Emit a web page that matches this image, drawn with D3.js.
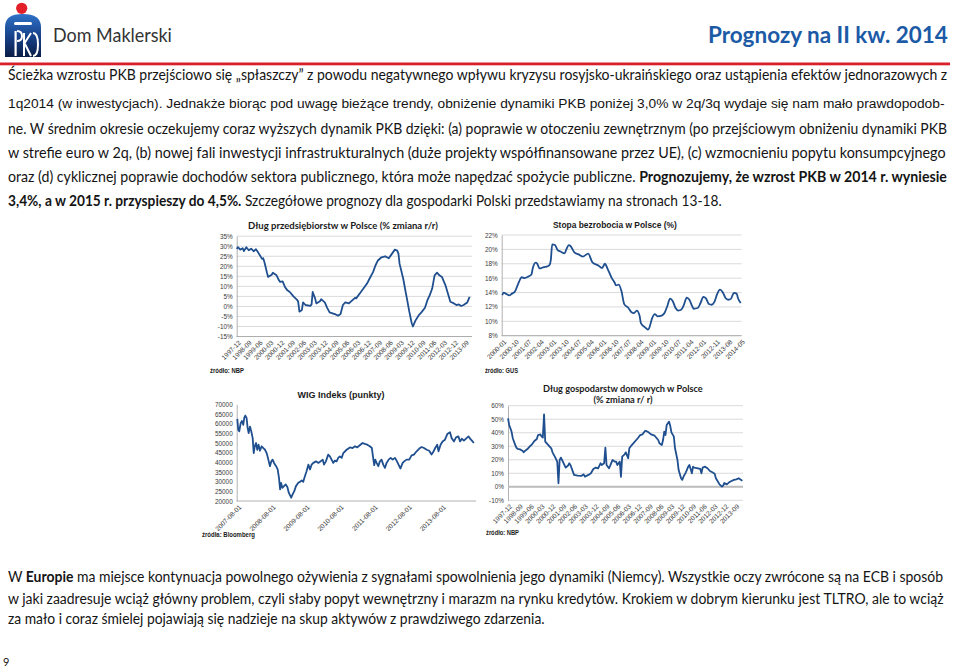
<!DOCTYPE html>
<html><head><meta charset="utf-8">
<script src="https://cdn.jsdelivr.net/npm/d3@7"></script>
<style>body{margin:0;background:#fff;} svg{display:block;}</style>
</head><body>
<svg id="c" width="960" height="668" xmlns="http://www.w3.org/2000/svg"></svg>
<script>
// ---------- DATA ----------
const monthTicksA = ["1997-12","1998-09","1999-06","2000-03","2000-12","2001-09","2002-06","2003-03","2003-12","2004-09","2005-06","2006-03","2006-12","2007-09","2008-06","2009-03","2009-12","2010-09","2011-06","2012-03","2012-12","2013-09"];

const firmDebtMonths = ["1997-12","1998-01","1998-03","1998-05","1998-06","1998-08","1998-10","1998-12","1999-02","1999-04","1999-06","1999-09","1999-10","1999-11","2000-01","2000-02","2000-05","2000-06","2000-09","2000-11","2000-12","2001-02","2001-04","2001-06","2001-08","2001-11","2002-02","2002-03","2002-04","2002-06","2002-07","2002-09","2003-01","2003-02","2003-03","2003-05","2003-06","2003-09","2003-10","2004-01","2004-03","2004-05","2004-08","2004-10","2004-12","2005-02","2005-04","2005-06","2005-09","2005-11","2006-02","2006-03","2006-06","2006-09","2006-12","2007-02","2007-05","2007-07","2007-09","2007-12","2008-03","2008-06","2008-08","2008-11","2009-01","2009-02","2009-03","2009-06","2009-08","2009-09","2009-11","2010-01","2010-02","2010-04","2010-07","2010-09","2010-12","2011-02","2011-04","2011-06","2011-08","2011-10","2011-12","2012-02","2012-05","2012-07","2012-09","2012-12","2013-02","2013-04","2013-06","2013-08","2013-11","2014-01"];
const firmDebtValues = [28.7,29.5,28.3,29.0,27.6,29.5,28.0,28.8,27.5,28.5,26.7,23.7,24.0,22.0,17.0,14.7,15.8,16.8,15.5,13.0,12.2,12.5,9.7,8.0,7.2,5.0,3.3,2.3,-2.6,-1.8,2.0,0.7,0.3,1.0,7.2,4.0,1.5,2.6,3.6,2.0,-0.7,-3.0,-3.6,-4.0,-4.6,-3.8,0.7,2.0,1.5,2.6,4.3,4.0,6.4,8.9,11.4,13.8,17.1,20.4,22.9,24.5,25.0,24.0,25.7,28.3,27.8,26.2,21.2,13.8,7.2,4.0,-2.6,-8.4,-10.0,-7.2,-4.3,-3.0,-0.7,3.1,5.6,8.9,15.5,16.8,15.5,14.7,10.5,6.4,2.3,1.5,0.7,1.0,0.2,0.7,2.0,4.8];
const firmDebtTicks = [-15,-10,-5,0,5,10,15,20,25,30,35];

const unempTickLabels = ["2000-01","2000-10","2001-07","2002-04","2003-01","2003-10","2004-07","2005-04","2006-01","2006-10","2007-07","2008-04","2009-01","2009-10","2010-07","2011-04","2012-01","2012-11","2013-08","2014-05"];
const unempMonths = ["2000-01","2000-02","2000-04","2000-06","2000-08","2000-10","2000-12","2001-02","2001-03","2001-05","2001-08","2001-10","2001-11","2002-01","2002-02","2002-04","2002-07","2002-09","2002-11","2002-12","2003-01","2003-03","2003-05","2003-07","2003-10","2003-11","2004-01","2004-02","2004-05","2004-08","2004-11","2005-03","2005-06","2005-10","2006-01","2006-03","2006-05","2006-08","2006-10","2006-11","2007-01","2007-03","2007-05","2007-08","2007-10","2007-12","2008-02","2008-04","2008-05","2008-08","2008-10","2008-11","2009-01","2009-03","2009-05","2009-08","2009-10","2009-12","2010-02","2010-04","2010-06","2010-08","2010-10","2010-12","2011-02","2011-04","2011-06","2011-07","2011-10","2011-12","2012-02","2012-04","2012-06","2012-08","2012-10","2012-12","2013-02","2013-04","2013-06","2013-08","2013-10","2013-12","2014-02","2014-03","2014-05"];
const unempValues = [13.65,14.0,13.8,13.6,13.85,14.1,15.0,15.9,16.15,16.0,16.25,16.5,17.4,18.15,18.05,17.35,17.55,17.6,17.8,18.5,20.7,20.6,19.9,19.7,19.45,19.9,20.6,20.5,19.6,19.3,19.0,19.4,18.2,17.8,17.4,18.0,17.3,16.0,15.4,15.0,15.1,14.2,12.4,11.85,11.3,11.15,11.5,10.8,9.75,9.15,8.85,9.1,10.4,11.0,10.7,10.8,11.15,12.1,13.15,12.8,11.85,11.5,11.6,12.3,13.3,13.0,12.1,11.75,11.85,12.55,13.4,13.15,12.4,12.3,12.7,13.8,14.4,14.05,13.25,13.0,13.15,13.95,13.85,13.25,12.55];
const unempTicks = [8,10,12,14,16,18,20,22];

const wigTickLabels = ["2007-08-01","2008-08-01","2009-08-01","2010-08-01","2011-08-01","2012-08-01","2013-08-01"];
const wigDates = ["2007-08-01","2007-08-11","2007-08-22","2007-09-06","2007-09-20","2007-10-04","2007-10-15","2007-10-26","2007-11-09","2007-11-20","2007-12-01","2007-12-15","2007-12-29","2008-01-13","2008-01-24","2008-02-04","2008-02-18","2008-03-02","2008-03-16","2008-03-31","2008-04-18","2008-05-06","2008-05-24","2008-06-11","2008-06-29","2008-07-16","2008-07-31","2008-08-14","2008-08-29","2008-09-20","2008-10-07","2008-10-21","2008-11-02","2008-11-12","2008-11-26","2008-12-14","2009-01-01","2009-01-19","2009-02-03","2009-02-17","2009-03-01","2009-03-16","2009-04-03","2009-04-21","2009-05-16","2009-06-03","2009-06-21","2009-07-08","2009-07-26","2009-08-13","2009-09-01","2009-09-19","2009-10-06","2009-10-24","2009-11-22","2009-12-17","2010-01-11","2010-02-02","2010-02-16","2010-03-08","2010-04-02","2010-04-20","2010-05-08","2010-05-26","2010-06-13","2010-07-01","2010-07-18","2010-08-05","2010-08-24","2010-09-11","2010-10-16","2010-11-21","2010-12-20","2011-01-14","2011-02-08","2011-03-07","2011-04-05","2011-04-30","2011-05-25","2011-06-22","2011-07-14","2011-07-28","2011-08-08","2011-08-19","2011-09-03","2011-09-21","2011-10-08","2011-10-26","2011-11-13","2011-12-01","2011-12-19","2012-01-10","2012-02-01","2012-02-22","2012-03-17","2012-04-04","2012-04-25","2012-05-16","2012-06-08","2012-06-25","2012-07-20","2012-08-18","2012-09-12","2012-10-07","2012-11-05","2012-12-04","2012-12-29","2013-01-23","2013-02-21","2013-03-20","2013-04-14","2013-05-02","2013-05-23","2013-06-14","2013-06-28","2013-07-20","2013-08-10","2013-09-05","2013-09-30","2013-10-29","2013-11-16","2013-12-11","2014-01-02","2014-01-27","2014-02-14","2014-03-05","2014-03-27","2014-04-25","2014-05-16","2014-06-06","2014-06-28","2014-07-12"];
const wigValues = [62500,56800,56000,60200,61400,59400,63100,64200,62800,57700,55100,58500,56000,52500,44800,48300,50000,46500,49100,46000,48300,47400,46500,44800,41400,38000,40500,41400,39700,38000,36300,32000,26000,29400,26800,27700,28600,27200,24300,22900,21700,23400,25100,27700,29400,29900,30600,29900,32800,35400,38800,36300,38800,39700,40500,39700,40500,41400,38800,40500,44000,43100,41400,39700,40900,40500,42300,43100,42300,44800,46500,47700,47400,48300,47700,48800,50000,49500,49100,48300,47400,42300,38500,41400,39700,38000,40500,41400,38800,37100,39700,41400,42300,41400,42300,40900,38800,36800,39700,40500,41400,41400,43600,44000,45700,47100,47900,47400,46500,46000,44000,45300,47400,49100,45700,49100,50800,51700,54600,55600,52500,50800,52900,53400,50800,52200,51200,52500,53400,52000,50800,50000];
const wigTicks = [20000,25000,30000,35000,40000,45000,50000,55000,60000,65000,70000];

const hhDebtMonths = ["1997-12","1998-01","1998-03","1998-04","1998-06","1998-07","1998-08","1998-10","1998-12","1999-01","1999-02","1999-04","1999-06","1999-08","1999-10","1999-12","2000-01","2000-03","2000-04","2000-05","2000-06","2000-07","2000-09","2000-12","2001-01","2001-03","2001-05","2001-06","2001-07","2001-08","2001-09","2001-11","2001-12","2002-02","2002-03","2002-04","2002-06","2002-07","2002-10","2003-01","2003-03","2003-04","2003-07","2003-09","2003-11","2004-01","2004-03","2004-05","2004-06","2004-08","2004-09","2004-10","2004-12","2005-01","2005-03","2005-05","2005-06","2005-07","2005-09","2005-10","2005-11","2006-01","2006-02","2006-04","2006-05","2006-07","2006-09","2006-12","2007-02","2007-04","2007-06","2007-07","2007-09","2007-11","2008-02","2008-05","2008-06","2008-08","2008-09","2008-10","2008-11","2008-12","2009-02","2009-03","2009-04","2009-06","2009-07","2009-09","2009-10","2009-12","2010-01","2010-02","2010-04","2010-06","2010-07","2010-09","2010-10","2010-11","2011-02","2011-04","2011-05","2011-06","2011-08","2011-10","2011-12","2012-02","2012-04","2012-05","2012-07","2012-08","2012-10","2012-11","2012-12","2013-02","2013-04","2013-06","2013-08","2013-10","2013-12","2014-02","2014-03"];
const hhDebtValues = [50.6,45.7,40.8,35.9,31.0,29.0,28.0,27.7,26.7,25.5,26.5,27.7,29.7,31.4,33.9,35.4,38.3,38.8,37.1,36.4,53.6,33.4,31.4,28.5,25.5,22.3,18.6,2.6,19.8,21.6,19.8,16.1,14.2,15.7,17.4,16.1,11.2,8.8,8.3,8.0,9.2,7.5,8.8,10.0,13.2,14.2,13.7,17.4,16.1,17.4,29.0,16.1,13.7,15.7,19.8,18.6,18.6,16.1,18.6,7.3,22.3,24.0,25.5,21.1,28.5,30.9,32.9,35.9,38.3,38.8,41.3,41.3,40.3,38.8,37.8,34.6,32.2,30.9,34.6,40.8,38.3,45.7,48.2,45.2,40.3,37.1,28.5,19.8,12.4,6.3,5.1,7.5,10.7,14.9,16.1,10.0,14.9,14.2,13.7,13.2,10.0,14.2,14.9,13.7,11.7,10.7,9.7,6.3,3.3,1.8,0.1,0.9,2.8,1.8,3.3,4.3,5.1,5.5,6.3,5.1,4.3];
const hhDebtTicks = [-10,0,10,20,30,40,50,60];

// ---------- DRAWING ----------
const svg = d3.select('#c');
const parseM = d3.timeParse('%Y-%m');
const parseD = d3.timeParse('%Y-%m-%d');
const TXT = '#141414';
const LINE = '#1f4f8f';
const ARIAL = "'Liberation Sans', Arial, sans-serif";
const CAL = "Lato, 'Open Sans', sans-serif";

// place a text element so it spans exactly `width` px
function fitText(sel, x, y, width, anchor) {
  const w = sel.node().getComputedTextLength();
  const s = width / w;
  let x0 = x;
  if (anchor === 'middle') x0 = x - width / 2;
  if (anchor === 'end') x0 = x - width;
  sel.attr('x', 0).attr('y', 0).attr('transform', `translate(${x0},${y}) scale(${s},1)`);
}

function richLine(parent, segs, font, size, weight) {
  const t = parent.append('text').attr('font-family', font).attr('font-size', size).attr('fill', TXT)
    .attr('font-weight', weight || 400);
  segs.forEach(([s, b]) => t.append('tspan').attr('font-weight', b ? 700 : (weight || 400)).text(s));
  return t;
}

// ---- header ----
const defs = svg.append('defs');
const grad = defs.append('linearGradient').attr('id', 'lg').attr('x1', 0).attr('y1', 0).attr('x2', 0).attr('y2', 1);
grad.append('stop').attr('offset', '0%').attr('stop-color', '#2f72c8');
grad.append('stop').attr('offset', '55%').attr('stop-color', '#163f86');
grad.append('stop').attr('offset', '100%').attr('stop-color', '#0a1d46');
svg.append('circle').attr('cx', 21.7).attr('cy', 8.3).attr('r', 5.6).attr('fill', '#e3202a');
svg.append('path').attr('d', 'M5,57 L5,27 Q5,14 22.5,14 Q41,14 41,27 L41,57 Z').attr('fill', 'url(#lg)');
svg.append('rect').attr('x', 14).attr('y', 22).attr('width', 18).attr('height', 3).attr('rx', 1.5).attr('fill', '#fff');
svg.append('rect').attr('x', 14.5).attr('y', 31).attr('width', 2.2).attr('height', 25).attr('fill', '#fff');
svg.append('path').attr('d', 'M17,31 Q22,31 22,36 Q22,41 17,41').attr('fill', 'none').attr('stroke', '#fff').attr('stroke-width', 2);
svg.append('path').attr('d', 'M24,33 L24,56 M24,44 L31,33 M25,44 L31,56').attr('fill', 'none').attr('stroke', '#fff').attr('stroke-width', 2);
svg.append('path').attr('d', 'M33,33 Q38,33 38,44.5 Q38,56 33,56').attr('fill', 'none').attr('stroke', '#fff').attr('stroke-width', 2);

const dm = svg.append('text').attr('font-family', CAL).attr('font-size', 20).attr('fill', '#333').text('Dom Maklerski');
fitText(dm, 53, 42, 119, 'start');
svg.append('rect').attr('x', 0).attr('y', 62.5).attr('width', 950).attr('height', 2.8).attr('fill', '#d91f2a');

const ttl = svg.append('text').attr('font-family', CAL).attr('font-size', 23).attr('font-weight', 700)
  .attr('fill', '#1c5aa6').text('Prognozy na II kw. 2014');
fitText(ttl, 948, 43, 240, 'end');

// ---- paragraph (top) ----
const topLines = [
  {y: 80, w: 940, segs: [["Ścieżka wzrostu PKB przejściowo się „spłaszczy” z powodu negatywnego wpływu kryzysu rosyjsko-ukraińskiego oraz ustąpienia efektów jednorazowych z", 0]]},
  {y: 108, w: 937, arial: true, segs: [["1q2014 (w inwestycjach). Jednakże biorąc pod uwagę bieżące trendy, obniżenie dynamiki PKB poniżej 3,0% w 2q/3q wydaje się nam mało prawdopodob-", 0]]},
  {y: 134, w: 940, segs: [["ne. W średnim okresie oczekujemy coraz wyższych dynamik PKB dzięki: (a) poprawie w otoczeniu zewnętrznym (po przejściowym obniżeniu dynamiki PKB", 0]]},
  {y: 158, w: 939, segs: [["w strefie euro w 2q, (b) nowej fali inwestycji infrastrukturalnych (duże projekty współfinansowane przez UE), (c) wzmocnieniu popytu konsumpcyjnego", 0]]},
  {y: 182, w: 939, segs: [["oraz (d) cyklicznej poprawie dochodów sektora publicznego, która może napędzać spożycie publiczne. ", 0], ["Prognozujemy, że wzrost PKB w 2014 r. wyniesie", 1]]},
  {y: 206, w: 714, segs: [["3,4%, a w 2015 r. przyspieszy do 4,5%.", 1], [" Szczegółowe prognozy dla gospodarki Polski przedstawiamy na stronach 13-18.", 0]]}
];
topLines.forEach(l => {
  const t = l.arial ? richLine(svg, l.segs, ARIAL, 13.5) : richLine(svg, l.segs, CAL, 14.5);
  fitText(t, 8, l.y, l.w, 'start');
});

const bottomLines = [
  {y: 582, w: 936, segs: [["W ", 0], ["Europie", 1], [" ma miejsce kontynuacja powolnego ożywienia z sygnałami spowolnienia jego dynamiki (Niemcy). Wszystkie oczy zwrócone są na ECB i sposób", 0]]},
  {y: 604, w: 936, segs: [["w jaki zaadresuje wciąż główny problem, czyli słaby popyt wewnętrzny i marazm na rynku kredytów. Krokiem w dobrym kierunku jest TLTRO, ale to wciąż", 0]]},
  {y: 624, w: 537, segs: [["za mało i coraz śmielej pojawiają się nadzieje na skup aktywów z prawdziwego zdarzenia.", 0]]}
];
bottomLines.forEach(l => {
  const t = richLine(svg, l.segs, CAL, 14.5);
  fitText(t, 8, l.y, l.w, 'start');
});

svg.append('text').attr('x', 3).attr('y', 666).attr('font-family', CAL).attr('font-size', 11).attr('fill', TXT).text('9');

// ---- charts ----
function drawChart(c) {
  const x = d3.scaleTime().domain(c.xDomain).range(c.xRange);
  const y = d3.scaleLinear().domain(c.yDomain).range(c.yRange);
  const g = svg.append('g');
  const [gx0, gx1] = c.gridX;
  if (c.grid) {
    g.append('g').selectAll('line').data(c.yTicks).join('line')
      .attr('x1', gx0).attr('x2', gx1).attr('y1', d => y(d)).attr('y2', d => y(d))
      .attr('stroke', '#d6d6d6').attr('stroke-width', 0.9);
  }
  const ya = g.append('g').attr('transform', `translate(${gx0},0)`)
    .call(d3.axisLeft(y).tickValues(c.yTicks).tickFormat(c.yFmt).tickSize(0).tickPadding(4));
  ya.select('.domain').attr('stroke', '#a8a8a8').attr('stroke-width', 0.9);
  ya.selectAll('text').attr('font-family', ARIAL).attr('font-size', 6.4).attr('fill', '#3a3a3a');
  g.append('line').attr('x1', gx0).attr('x2', gx1).attr('y1', y(c.base)).attr('y2', y(c.base))
    .attr('stroke', c.baseColor).attr('stroke-width', c.baseWidth);
  const xa = g.append('g').attr('transform', `translate(0,${c.yRange[0]})`)
    .call(d3.axisBottom(x).tickValues(c.xTickDates).tickFormat((d, i) => c.xTickLabels[i]).tickSize(0));
  xa.select('.domain').remove();
  xa.selectAll('text').attr('x', 0).attr('y', 0).attr('dy', '0.35em')
    .attr('transform', 'translate(2.5,5) rotate(-45)').style('text-anchor', 'end')
    .attr('font-family', ARIAL).attr('font-size', 6.6).attr('fill', '#3a3a3a');
  g.append('path').datum(c.points)
    .attr('d', d3.line().x(d => x(d[0])).y(d => y(d[1])).curve(c.curve || d3.curveLinear))
    .attr('fill', 'none').attr('stroke', LINE).attr('stroke-width', 1.8).attr('stroke-linejoin', 'round');
  // title
  c.titles.forEach(t => {
    const tt = g.append('text').attr('font-family', t.font).attr('font-size', t.size).attr('font-weight', 700)
      .attr('fill', '#1a1a1a').text(t.text);
    fitText(tt, t.x, t.y, t.w, 'middle');
  });
  const src = g.append('text').attr('font-family', ARIAL).attr('font-size', 6.3).attr('font-weight', 700)
    .attr('fill', '#1a1a1a').text(c.source.text);
  fitText(src, c.source.x, c.source.y, c.source.w, 'start');
}

const pct = d => d + '%';

drawChart({
  xDomain: [parseM('1997-12'), parseM('2014-03')], xRange: [236.7, 472],
  yDomain: [-15, 35], yRange: [336.5, 236.2], gridX: [236.7, 472],
  grid: true, yTicks: firmDebtTicks, yFmt: pct,
  base: -15, baseColor: '#a8a8a8', baseWidth: 0.9,
  xTickDates: monthTicksA.map(parseM), xTickLabels: monthTicksA,
  points: firmDebtMonths.map((m, i) => [parseM(m), firmDebtValues[i]]),
  titles: [{text: 'Dług przedsiębiorstw w Polsce (% zmiana r/r)', font: CAL, size: 10, x: 343, y: 229, w: 190}],
  source: {text: 'źródło: NBP', x: 210, y: 373, w: 34}
});

drawChart({
  xDomain: [parseM('2000-01'), parseM('2014-05')], xRange: [502.3, 740.7],
  yDomain: [8, 22], yRange: [335.7, 235], gridX: [501.7, 741.7],
  grid: true, yTicks: unempTicks, yFmt: pct,
  base: 8, baseColor: '#a8a8a8', baseWidth: 0.9,
  xTickDates: unempTickLabels.map(parseM), xTickLabels: unempTickLabels,
  points: unempMonths.map((m, i) => [parseM(m), unempValues[i]]), curve: d3.curveMonotoneX,
  titles: [{text: 'Stopa bezrobocia w Polsce (%)', font: ARIAL, size: 8.5, x: 615, y: 228, w: 124}],
  source: {text: 'źródło: GUS', x: 485, y: 373, w: 33}
});

drawChart({
  xDomain: [parseD('2007-08-01'), parseD('2013-08-01')], xRange: [237.3, 441.7],
  yDomain: [20000, 70000], yRange: [501, 404.3], gridX: [236.7, 476],
  grid: false, yTicks: wigTicks, yFmt: d => String(d),
  base: 20000, baseColor: '#a8a8a8', baseWidth: 0.9,
  xTickDates: wigTickLabels.map(parseD), xTickLabels: wigTickLabels,
  points: wigDates.map((m, i) => [parseD(m), wigValues[i]]),
  titles: [{text: 'WIG Indeks (punkty)', font: ARIAL, size: 8.5, x: 341, y: 398, w: 87}],
  source: {text: 'źródła: Bloomberg', x: 202, y: 537, w: 53}
});

drawChart({
  xDomain: [parseM('1997-12'), parseM('2014-03')], xRange: [508, 742.3],
  yDomain: [-10, 60], yRange: [500.3, 405.7], gridX: [508, 743],
  grid: true, yTicks: hhDebtTicks, yFmt: pct,
  base: 0, baseColor: '#bdbdbd', baseWidth: 2,
  xTickDates: monthTicksA.map(parseM), xTickLabels: monthTicksA,
  points: hhDebtMonths.map((m, i) => [parseM(m), hhDebtValues[i]]),
  titles: [
    {text: 'Dług gospodarstw domowych w Polsce', font: CAL, size: 10, x: 623, y: 391.5, w: 160},
    {text: '(% zmiana r/ r)', font: CAL, size: 10, x: 623, y: 403, w: 59}
  ],
  source: {text: 'źródło: NBP', x: 486, y: 535, w: 33}
});
</script>
</body></html>
